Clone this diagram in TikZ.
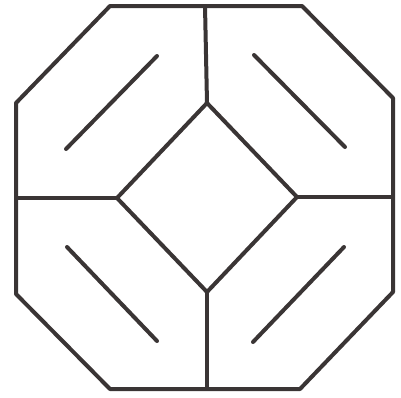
\documentclass[tikz,border=0pt]{standalone}
\definecolor{ink}{RGB}{58,53,53}
\begin{document}
\begin{tikzpicture}[x=1pt, y=-1pt, line width=4pt, color=ink, line join=round,
  bar/.style={line cap=round}]
  \useasboundingbox (0,0) rectangle (401,397);
  % outer octagon
  \coordinate (o1) at (110,6);   \coordinate (o2) at (302,6);
  \coordinate (o3) at (393,98);  \coordinate (o4) at (393,292);
  \coordinate (o5) at (300,389); \coordinate (o6) at (110,389);
  \coordinate (o7) at (16,294);  \coordinate (o8) at (16,103);
  \draw (o1) -- (o2) -- (o3) -- (o4) -- (o5) -- (o6) -- (o7) -- (o8) -- cycle;
  % inner diamond
  \coordinate (dt) at (207,103); \coordinate (dr) at (297,197);
  \coordinate (db) at (207,292); \coordinate (dl) at (117,198);
  \draw (dt) -- (dr) -- (db) -- (dl) -- cycle;
  % dividers
  \draw (205,6) -- (dt);
  \draw (dr) -- (393,197);
  \draw (db) -- (207,389);
  \draw (16,198) -- (dl);
  % diagonal strokes
  \foreach \a/\b/\c/\d in {157/56/66/149, 254/55/345/147, 67/247/157/341, 253/342/344/247}
    \draw[bar] (\a,\b) -- (\c,\d);
\end{tikzpicture}
\end{document}
